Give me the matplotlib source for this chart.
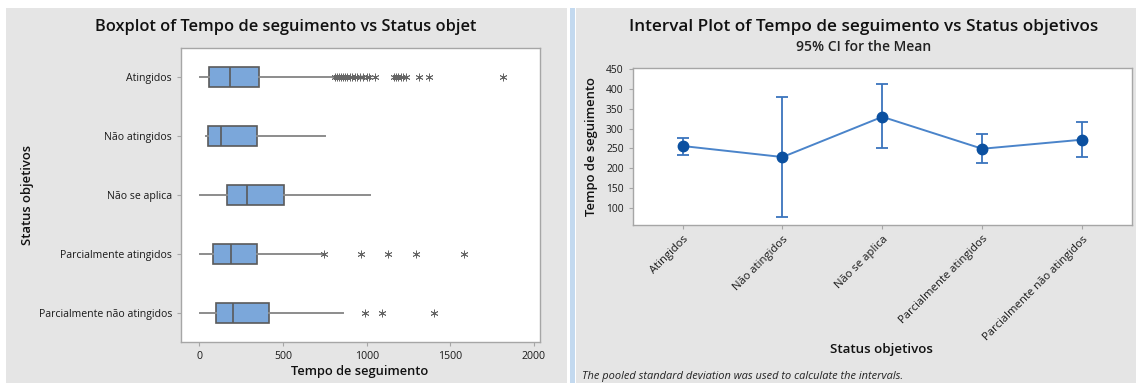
import matplotlib
matplotlib.use("Agg")
import matplotlib.pyplot as plt
from matplotlib.patches import Rectangle

# categories shared by both panels
categories = ["Atingidos", "Não atingidos", "Não se aplica",
              "Parcialmente atingidos", "Parcialmente não atingidos"]

# boxplot summary (Tempo de seguimento)
whisker_low = [4, 40, 4, 4, 4]
q1 = [56, 52, 164, 80, 98]
medians = [182, 128, 287, 186, 201]
q3 = [357, 345, 503, 345, 417]
whisker_high = [798, 752, 1022, 739, 858]
outliers = [
    [808, 822, 835, 848, 860, 872, 885, 898, 912, 928, 945, 962, 980,
     1000, 1015, 1048, 1162, 1176, 1190, 1204, 1220, 1234, 1313, 1373, 1812],
    [],
    [],
    [745, 968, 1126, 1296, 1583],
    [992, 1090, 1403],
]

# interval plot: mean and 95% CI
means = [256, 228, 330, 249, 272]
ci_low = [233, 77, 251, 213, 228]
ci_high = [277, 381, 412, 287, 318]

W, H = 1136, 383
BG = "#E5E5E5"
FONT = "Open Sans"
plt.rcParams["font.family"] = [FONT, "DejaVu Sans"]


def px_rect(x0, y0, x1, y1):
    # pixel box (top-left origin) -> figure fraction [left, bottom, width, height]
    return [x0 / W, (H - y1) / H, (x1 - x0) / W, (y1 - y0) / H]


def ftext(fig, x, y, s, **kw):
    fig.text(x / W, (H - y) / H, s, **kw)


def style_frame(ax):
    for sp in ax.spines.values():
        sp.set_color("#A6A6A6")
        sp.set_linewidth(1.0)
    ax.tick_params(colors="#A6A6A6", labelcolor="#1A1A1A", length=3, width=0.8)


fig = plt.figure(figsize=(W / 100, H / 100), dpi=100)
fig.patch.set_facecolor("white")
for x0, x1, col in [(6, 567, BG), (569.5, 575, "#C3D9EF"), (576, W, BG)]:
    fig.patches.append(Rectangle((x0 / W, 0), (x1 - x0) / W, (H - 8) / H,
                                 transform=fig.transFigure, facecolor=col,
                                 edgecolor="none", zorder=-5))

# ---- left: boxplot ----
ax1 = fig.add_axes(px_rect(181, 48.5, 540, 341.5))
stats = []
for i, name in enumerate(categories):
    stats.append({
        "label": name, "whislo": whisker_low[i], "q1": q1[i], "med": medians[i],
        "q3": q3[i], "whishi": whisker_high[i], "fliers": outliers[i],
    })
ax1.bxp(stats, positions=range(len(categories)), widths=0.34,
        orientation="horizontal", patch_artist=True, showcaps=False,
        boxprops=dict(facecolor="#7BA7DA", edgecolor="#5A5A5A", linewidth=1.2),
        medianprops=dict(color="#5A5A5A", linewidth=1.2),
        whiskerprops=dict(color="#8C8C8C", linewidth=1.4),
        flierprops=dict(marker=(6, 2, 0), markersize=5.5, markeredgecolor="#666666",
                        markeredgewidth=0.6, linestyle="none"))
ax1.set_ylim(4.48, -0.48)
ax1.set_xlim(-110, 2036)
ax1.set_xticks([0, 500, 1000, 1500, 2000])
ax1.set_yticks(range(len(categories)))
ax1.set_yticklabels(categories)
style_frame(ax1)
for lbl in ax1.get_xticklabels() + ax1.get_yticklabels():
    lbl.set_fontsize(7.6)

ftext(fig, 286, 27, "Boxplot of Tempo de seguimento vs Status objet",
      ha="center", va="center", fontsize=11.8, fontweight="semibold", color="#111111")
ftext(fig, 360, 372, "Tempo de seguimento", ha="center", va="center",
      fontsize=9.3, fontweight="semibold", color="#111111")
ftext(fig, 27.5, 195, "Status objetivos", ha="center", va="center", rotation=90,
      fontsize=9.4, fontweight="semibold", color="#111111")

# ---- right: interval plot ----
ax2 = fig.add_axes(px_rect(632.7, 67.5, 1132, 224.5))
x = list(range(len(categories)))
err_lo = [m - lo for m, lo in zip(means, ci_low)]
err_hi = [hi - m for m, hi in zip(means, ci_high)]
ax2.errorbar(x, means, yerr=[err_lo, err_hi], fmt="none", ecolor="#3A74BD",
             elinewidth=1.3, capsize=4.5, capthick=1.3)
ax2.plot(x, means, color="#4A84CA", linewidth=1.4, marker="o", markersize=7.5,
         markerfacecolor="#0B50A0", markeredgecolor="#0B50A0")
ax2.set_xlim(-0.5, 4.5)
ax2.set_ylim(57, 455)
ax2.set_yticks(range(100, 451, 50))
ax2.set_xticks(x)
ax2.set_xticklabels(categories, rotation=45, ha="right", rotation_mode="anchor")
style_frame(ax2)
for lbl in ax2.get_yticklabels():
    lbl.set_fontsize(7.4)
for lbl in ax2.get_xticklabels():
    lbl.set_fontsize(8.1)

ftext(fig, 864, 27, "Interval Plot of Tempo de seguimento vs Status objetivos",
      ha="center", va="center", fontsize=12.3, fontweight="semibold", color="#111111")
ftext(fig, 864, 47, "95% CI for the Mean", ha="center", va="center",
      fontsize=10, fontweight="semibold", color="#222222")
ftext(fig, 592, 147, "Tempo de seguimento", ha="center", va="center", rotation=90,
      fontsize=9.4, fontweight="semibold", color="#111111")
ftext(fig, 881, 350, "Status objetivos", ha="center", va="center",
      fontsize=9.6, fontweight="semibold", color="#111111")
ftext(fig, 581.5, 376, "The pooled standard deviation was used to calculate the intervals.",
      ha="left", va="center", fontsize=7.9, style="italic", color="#222222")

fig.savefig("out.png", dpi=100, facecolor=fig.get_facecolor())
